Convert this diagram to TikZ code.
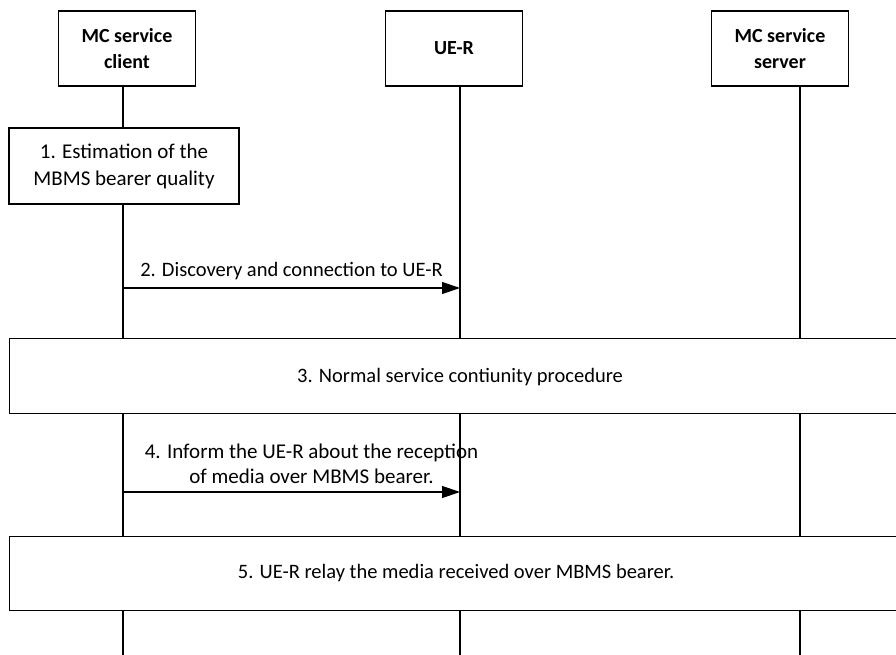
\documentclass[tikz,border=0pt]{standalone}
\usepackage{fontspec}
\setmainfont{Carlito}
\usetikzlibrary{arrows.meta}
\begin{document}
\begin{tikzpicture}[x=1pt,y=-1pt,
  every node/.style={font=\fontsize{20.5}{26}\selectfont},
  entity/.style={draw,line width=1.2pt,minimum width=137pt,minimum height=75pt,align=center,font=\bfseries\fontsize{20}{26}\selectfont},
  stepbox/.style={draw,line width=1.2pt,align=center,inner sep=0pt},
  life/.style={line width=1.2pt},
  msg/.style={line width=1.2pt,-{Triangle[length=18pt,width=12pt]}}]
\useasboundingbox (0,0) rectangle (896,655);
\node[entity] (c) at (127,48.5) {MC service\\client};
\node[entity] (u) at (454,48.5) {UE-R};
\node[entity] (s) at (780,48.5) {MC service\\server};
\coordinate (cb) at (123,655);
\coordinate (ub) at (460,655);
\coordinate (sb) at (800,655);
\draw[life] (c.south -| cb) -- (cb);
\draw[life] (u.south -| ub) -- (ub);
\draw[life] (s.south -| sb) -- (sb);
\node[stepbox,fill=white,minimum width=230pt,minimum height=76pt,font=\fontsize{21}{27}\selectfont] (s1) at (124,166) {1. Estimation of the\\MBMS bearer quality};
\coordinate (a2s) at (123,288);
\coordinate (a2e) at (460,288);
\draw[msg] (a2s) -- node[above=4pt] {2. Discovery and connection to UE-R} (a2e);
\node[stepbox,fill=white,minimum width=900pt,minimum height=75pt,anchor=north west] (s3) at (9,338) {};
\node at (460,377) {3. Normal service contiunity procedure};
\coordinate (a4s) at (123,492);
\coordinate (a4e) at (460,492);
\draw[msg] (a4s) -- node[above=4pt,align=center,xshift=20pt,font=\fontsize{21}{25}\selectfont] {4. Inform the UE-R about the reception\\of media over MBMS bearer.} (a4e);
\node[stepbox,fill=white,minimum width=900pt,minimum height=74pt,anchor=north west] (s5) at (9,536) {};
\node at (456,573) {5. UE-R relay the media received over MBMS bearer.};
\end{tikzpicture}
\end{document}
